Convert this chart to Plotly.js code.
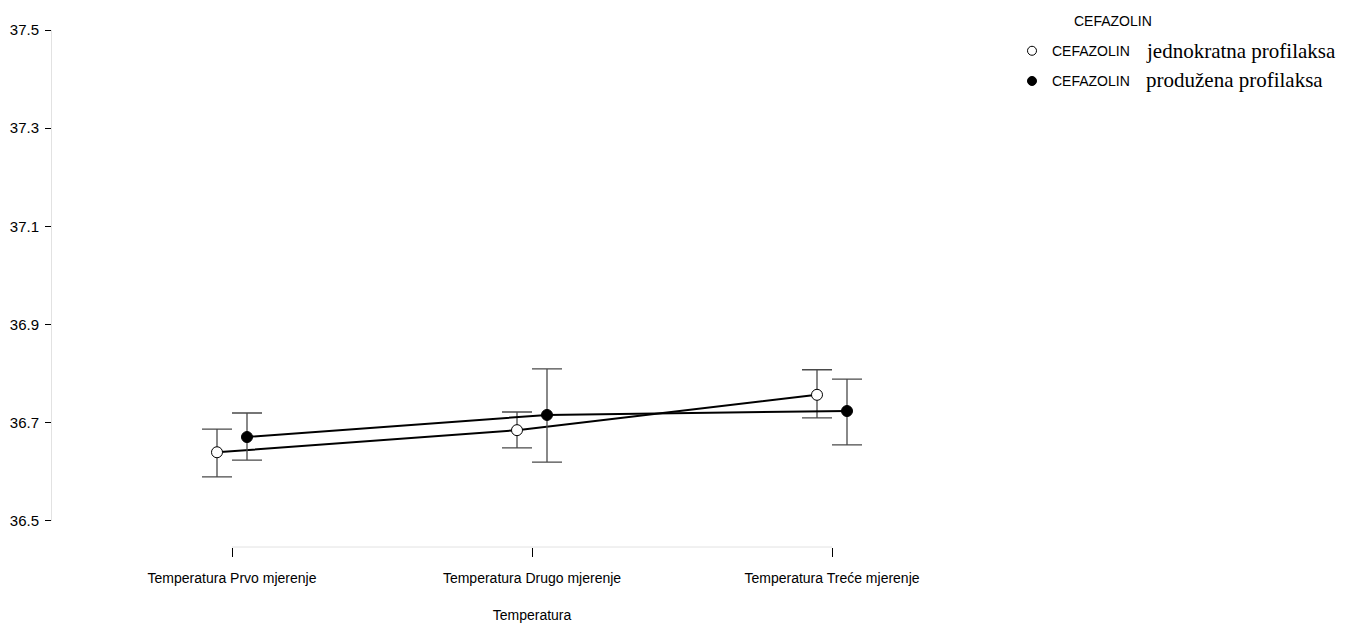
<!DOCTYPE html>
<html>
<head>
<meta charset="utf-8">
<script src="https://cdn.plot.ly/plotly-3.0.1.min.js"></script>
<style>html,body{margin:0;padding:0;background:#fff;}#chart{width:1355px;height:626px;}</style>
</head>
<body>
<div id="chart"></div>
<script>
// ---- data ----
const categories = ["Temperatura Prvo mjerenje", "Temperatura Drugo mjerenje", "Temperatura Treće mjerenje"];
const seriesNames = ["CEFAZOLIN", "CEFAZOLIN"];
const seriesLabels = ["jednokratna profilaksa", "produžena profilaksa"];
const jednokratnaMean = [36.640, 36.685, 36.757];
const jednokratnaUpper = [36.687, 36.722, 36.808];
const jednokratnaLower = [36.590, 36.649, 36.710];
const produzenaMean = [36.671, 36.716, 36.724];
const produzenaUpper = [36.720, 36.810, 36.789];
const produzenaLower = [36.624, 36.620, 36.655];
const yTicks = [36.5, 36.7, 36.9, 37.1, 37.3, 37.5];

const sans = "Liberation Sans, Arial, sans-serif";
const serif = "Liberation Serif, Times New Roman, serif";
const dodge = 0.05;
const idx = categories.map((c, i) => i);

function mk(mean, up, lo, off, fill, name) {
  return {
    type: "scatter", mode: "lines+markers", name: name, showlegend: false,
    x: idx.map(i => i + off), y: mean,
    line: {color: "#000", width: 2},
    marker: {symbol: "circle", size: 11, color: fill, line: {color: "#000", width: 1}},
    error_y: {type: "data", symmetric: false,
      array: up.map((u, i) => u - mean[i]),
      arrayminus: mean.map((m, i) => m - lo[i]),
      color: "#4a4a4a", thickness: 1.3, width: 15},
    hoverinfo: "skip"
  };
}
function legendEntry(fill, name, group) {
  return {type: "scatter", mode: "markers", name: name, legendgroup: group,
    x: [null], y: [null], showlegend: true,
    marker: {symbol: "circle", size: 9, color: fill, line: {color: "#000", width: 1}}};
}

const traces = [
  mk(jednokratnaMean, jednokratnaUpper, jednokratnaLower, -dodge, "#fff", seriesNames[0]),
  mk(produzenaMean, produzenaUpper, produzenaLower, dodge, "#000", seriesNames[1]),
  legendEntry("#fff", seriesNames[0], "g1"),
  legendEntry("#000", seriesNames[1], "g2")
];

const layout = {
  width: 1355, height: 626,
  margin: {l: 52, r: 343, t: 30, b: 79},
  paper_bgcolor: "#fff", plot_bgcolor: "#fff",
  showlegend: true,
  legend: {x: 1.0, xanchor: "left", y: 0.99, yanchor: "top",
    font: {family: sans, size: 14, color: "#000"}, tracegroupgap: 9, itemwidth: 30},
  xaxis: {
    range: [-0.6, 2.6], anchor: "free", position: 0,
    tickmode: "array", tickvals: idx, ticktext: categories,
    showline: false, showgrid: false, zeroline: false,
    ticks: "outside", ticklen: 9, tickwidth: 1, tickcolor: "#000",
    ticklabelstandoff: 9,
    tickfont: {family: sans, size: 14, color: "#000"},
    title: {text: "Temperatura", font: {family: sans, size: 14, color: "#000"}, standoff: 25}
  },
  yaxis: {
    domain: [0.0503, 1], range: [36.5, 37.5],
    tickmode: "array", tickvals: yTicks, ticktext: yTicks.map(v => v.toFixed(1)),
    showline: true, linecolor: "#e2e2e2", linewidth: 1,
    showgrid: false, zeroline: false,
    ticks: "outside", ticklen: 6, tickwidth: 1, tickcolor: "#000",
    ticklabelstandoff: 3,
    tickfont: {family: sans, size: 15, color: "#000"}
  },
  shapes: [{type: "line", xref: "x", yref: "paper", x0: 0, x1: 2, y0: 0, y1: 0,
    line: {color: "#e2e2e2", width: 1}}],
  annotations: [
    {xref: "paper", yref: "paper", x: 1.0625, y: 1.017, xanchor: "left", yanchor: "middle",
      text: "CEFAZOLIN", showarrow: false, font: {family: sans, size: 14, color: "#000"}},
    {xref: "paper", yref: "paper", x: 1.137, y: 0.959, xanchor: "left", yanchor: "middle",
      text: seriesLabels[0], showarrow: false, font: {family: serif, size: 21, color: "#000"}},
    {xref: "paper", yref: "paper", x: 1.137, y: 0.904, xanchor: "left", yanchor: "middle",
      text: seriesLabels[1], showarrow: false, font: {family: serif, size: 21, color: "#000"}}
  ]
};

Plotly.newPlot("chart", traces, layout, {displayModeBar: false, staticPlot: true});
</script>
</body>
</html>
